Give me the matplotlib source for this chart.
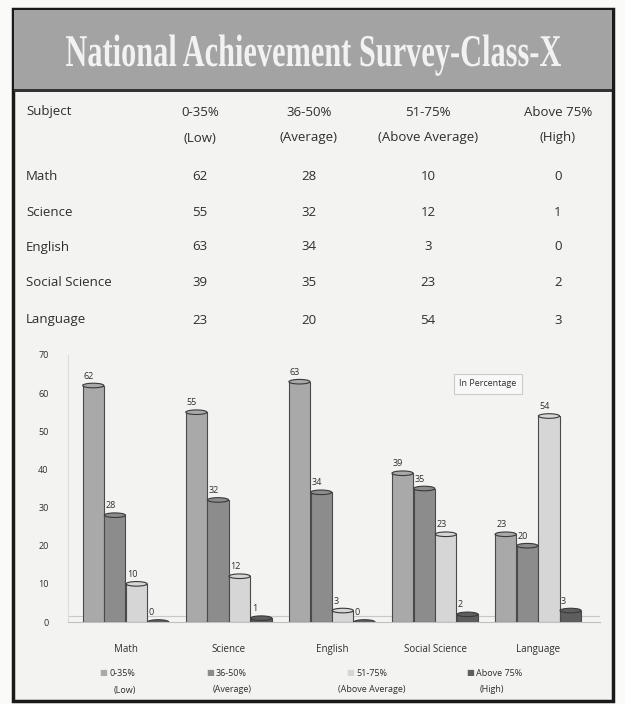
import matplotlib
matplotlib.use('Agg')
import matplotlib.pyplot as plt
from matplotlib.patches import Rectangle, Ellipse, PathPatch
from matplotlib.textpath import TextPath
from matplotlib.font_manager import FontProperties
from matplotlib.transforms import Affine2D
import numpy as np

subjects = ["Math", "Science", "English", "Social Science", "Language"]
bands = ["0-35%", "36-50%", "51-75%", "Above 75%"]
band_notes = ["(Low)", "(Average)", "(Above Average)", "(High)"]
low = [62, 55, 63, 39, 23]
average = [28, 32, 34, 35, 20]
above_average = [10, 12, 3, 23, 54]
high = [0, 1, 0, 2, 3]
yticks = [0, 10, 20, 30, 40, 50, 60, 70]
title = "National Achievement Survey-Class-X"

series = [low, average, above_average, high]
bar_colors = ['#a9a9a9', '#8c8c8c', '#d6d6d6', '#5e5e5e']
text_col = '#2e2e2e'
fam = ['Open Sans', 'DejaVu Sans']
W, H = 625, 704

fig = plt.figure(figsize=(W / 100, H / 100), dpi=100)
fig.patch.set_facecolor('#fafaf8')

def px(x, y):
    return x / W, 1 - y / H

# frame and title band
fig.patches.append(Rectangle(px(13, 701), 600 / W, 692 / H, transform=fig.transFigure,
                             facecolor='#f3f3f1', edgecolor='#1a1a1a', linewidth=2.5, zorder=-3))
fig.patches.append(Rectangle(px(14, 89), 598 / W, 79 / H, transform=fig.transFigure,
                             facecolor='#a3a3a3', edgecolor='none', zorder=-2))
fig.patches.append(Rectangle(px(14, 92), 598 / W, 3 / H, transform=fig.transFigure,
                             facecolor='#333333', edgecolor='none', zorder=-2))

# title: condensed serif, stretched to the reference's size
tp = TextPath((0, 0), title, size=1, prop=FontProperties(family='Liberation Serif', weight='bold'))
ext = tp.get_extents()
sx = 495 / ext.width
sy = 30 / 0.66
tr = Affine2D().translate(-ext.x0, 0).scale(sx / W, sy / H).translate(66 / W, 1 - 66 / H)
fig.patches.append(PathPatch(tp, transform=tr + fig.transFigure, facecolor='#f2f2f2',
                             edgecolor='none', zorder=-1))

# table
tfont = dict(family=fam, fontsize=9.5, color=text_col)
col_x = [200, 309, 428, 558]
fig.text(*px(26, 112), "Subject", ha='left', va='center', **tfont)
for cx, b, n in zip(col_x, bands, band_notes):
    fig.text(*px(cx, 112), b, ha='center', va='center', **tfont)
    fig.text(*px(cx, 138), n, ha='center', va='center', **tfont)
row_y = [177, 212, 247, 283, 320]
for i, (s, ry) in enumerate(zip(subjects, row_y)):
    fig.text(*px(26, ry), s, ha='left', va='center', **tfont)
    for j, cx in enumerate(col_x):
        fig.text(*px(cx, ry), str(series[j][i]), ha='center', va='center', **tfont)

# bar chart
ax = fig.add_axes([68 / W, 1 - 622 / H, (600 - 68) / W, (622 - 355) / H])
ax.set_facecolor('none')
x = np.arange(len(subjects))
bw = 0.205
offsets = (np.arange(4) - 1.5) * 0.21
for k, (vals, col) in enumerate(zip(series, bar_colors)):
    xs = x + offsets[k]
    ax.bar(xs, vals, width=bw, color=col, edgecolor='#4a4a4a', linewidth=0.8, zorder=3)
    for xi, v in zip(xs, vals):
        ax.add_patch(Ellipse((xi, v), bw, 1.2, facecolor=col, edgecolor='#3a3a3a',
                             linewidth=0.8, zorder=4))
        ax.text(xi - bw * 0.45, v + 1.3, str(v), ha='left', va='bottom',
                fontsize=6.5, color=text_col, family=fam, zorder=5)

ax.axhline(1.5, color='#c8c8c8', linewidth=0.8, zorder=1)
ax.set_xlim(-0.56, 4.6)
ax.set_ylim(0, 70)
ax.set_yticks(yticks)
ax.set_yticklabels([str(t) for t in yticks], fontsize=6.5, color=text_col, family=fam)
ax.tick_params(axis='y', length=0, pad=14)
ax.set_xticks(x)
ax.set_xticklabels(subjects, fontsize=7, color=text_col, family=fam)
ax.tick_params(axis='x', length=0, pad=16)
for side in ['top', 'right']:
    ax.spines[side].set_visible(False)
ax.spines['left'].set_color('#dddddd')
ax.spines['bottom'].set_color('#c0c0c0')

# legend under the chart
leg_x = [125, 232, 372, 492]
for cx, b, n, col in zip(leg_x, bands, band_notes, bar_colors):
    fig.text(*px(cx - 18, 673), "\u25a0", ha='right', va='center', fontsize=6,
             color=col, family=fam)
    fig.text(*px(cx - 16, 673), b, ha='left', va='center', fontsize=6.5,
             color=text_col, family=fam)
    fig.text(*px(cx, 690), n, ha='center', va='center', fontsize=6.5,
             color=text_col, family=fam)

# "In Percentage" box
fig.text(*px(488, 384), "In Percentage", ha='center', va='center', fontsize=6.5,
         color=text_col, family=fam,
         bbox=dict(boxstyle='square,pad=0.6', facecolor='#f8f8f8', edgecolor='#cccccc', linewidth=0.8))

fig.savefig("out.png", dpi=100, facecolor=fig.get_facecolor())
